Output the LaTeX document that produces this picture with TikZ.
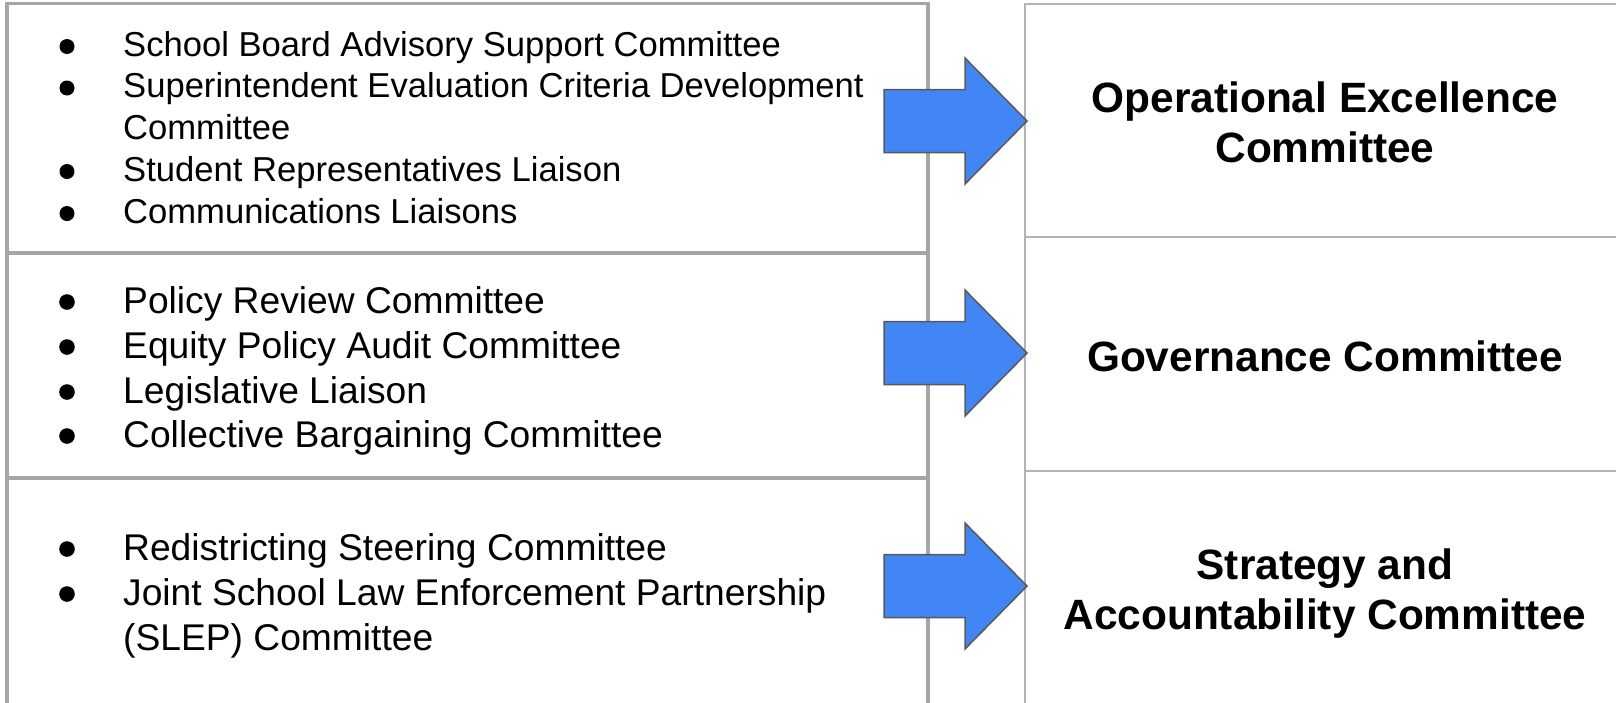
\documentclass[tikz,border=0pt]{standalone}
\usepackage{fontspec}
\setmainfont{Liberation Sans}
\usepackage{tikz}

\definecolor{boxgray}{HTML}{A6A6A6}
\definecolor{linegray}{HTML}{B3B3B3}
\definecolor{arrowblue}{HTML}{4285F4}
\definecolor{arrowedge}{HTML}{595959}

\begin{document}
\begin{tikzpicture}[x=1pt, y=-1pt, line join=miter,
    item/.style={anchor=base west, inner sep=0pt, align=left, font=\fontsize{34.6}{41.75}\selectfont},
    bigitem/.style={item, font=\fontsize{37.2}{45}\selectfont},
    title/.style={anchor=base, inner sep=0pt, align=center, font=\fontsize{42.4}{50}\selectfont\bfseries},
    listline/.style={boxgray, line width=3.5pt},
    sideline/.style={linegray, line width=2pt},
    dotmark/.style={fill=black},
    blockarrow/.style={fill=arrowblue, draw=arrowedge, line width=1.5pt}]
    \useasboundingbox (0,0) rectangle (1616,702);
    \clip (0,0) rectangle (1616,702);
    \fill[white] (0,0) rectangle (1616,702);

    % Left boxes
    \draw[listline] (7,720) -- (7,3.5) -- (928,3.5) -- (928,720);
    \draw[listline] (7,253) -- (928,253);
    \draw[listline] (7,478) -- (928,478);

    % Right boxes
    \draw[sideline] (1025,720) -- (1025,4) -- (1640,4);
    \draw[sideline] (1025,237) -- (1640,237);
    \draw[sideline] (1025,471) -- (1640,471);

    % Box 1 (two-line items sit on their last baseline)
    \node[item] (sbasc) at (123,56) {School Board Advisory Support Committee};
    \node[item] (secdc) at (123,139) {Superintendent Evaluation Criteria Development\\Committee};
    \node[item] (srl) at (123,181) {Student Representatives Liaison};
    \node[item] (cl) at (123,223) {Communications Liaisons};
    \fill[dotmark] ([shift={(-56pt,9.5pt)}]sbasc.base west) circle (7.5pt);
    \fill[dotmark] ([shift={(-56pt,51pt)}]secdc.base west) circle (7.5pt);
    \fill[dotmark] ([shift={(-56pt,9.5pt)}]srl.base west) circle (7.5pt);
    \fill[dotmark] ([shift={(-56pt,9.5pt)}]cl.base west) circle (7.5pt);

    % Box 2
    \node[bigitem] (prc) at (123,313) {Policy Review Committee};
    \node[bigitem] (epac) at (123,358) {Equity Policy Audit Committee};
    \node[bigitem] (ll) at (123,403) {Legislative Liaison};
    \node[bigitem] (cbc) at (123,447) {Collective Bargaining Committee};
    \fill[dotmark] ([shift={(-56pt,11pt)}]prc.base west) circle (7.8pt);
    \fill[dotmark] ([shift={(-56pt,11pt)}]epac.base west) circle (7.8pt);
    \fill[dotmark] ([shift={(-56pt,11pt)}]ll.base west) circle (7.8pt);
    \fill[dotmark] ([shift={(-56pt,11pt)}]cbc.base west) circle (7.8pt);

    % Box 3
    \node[bigitem] (rsc) at (123,560) {Redistricting Steering Committee};
    \node[bigitem] (jslep) at (123,650) {Joint School Law Enforcement Partnership\\(SLEP) Committee};
    \fill[dotmark] ([shift={(-56pt,11pt)}]rsc.base west) circle (7.8pt);
    \fill[dotmark] ([shift={(-56pt,56pt)}]jslep.base west) circle (7.8pt);

    % Committees
    \node[title] (oec) at (1325,162) {Operational Excellence\\Committee};
    \node[title] (gc) at (1325,371) {Governance Committee};
    \node[title] (sac) at (1325,629) {Strategy and\\Accountability Committee};

    % Arrows
    \coordinate (tip1) at (1027,121);
    \coordinate (tip2) at (1027,353);
    \coordinate (tip3) at (1027,586);
    \draw[blockarrow] (tip1) -- ++(-62,-63) -- ++(0,31.5) -- ++(-81,0) -- ++(0,63) -- ++(81,0) -- ++(0,31.5) -- cycle;
    \draw[blockarrow] (tip2) -- ++(-62,-63) -- ++(0,31.5) -- ++(-81,0) -- ++(0,63) -- ++(81,0) -- ++(0,31.5) -- cycle;
    \draw[blockarrow] (tip3) -- ++(-62,-63) -- ++(0,31.5) -- ++(-81,0) -- ++(0,63) -- ++(81,0) -- ++(0,31.5) -- cycle;
\end{tikzpicture}
\end{document}
